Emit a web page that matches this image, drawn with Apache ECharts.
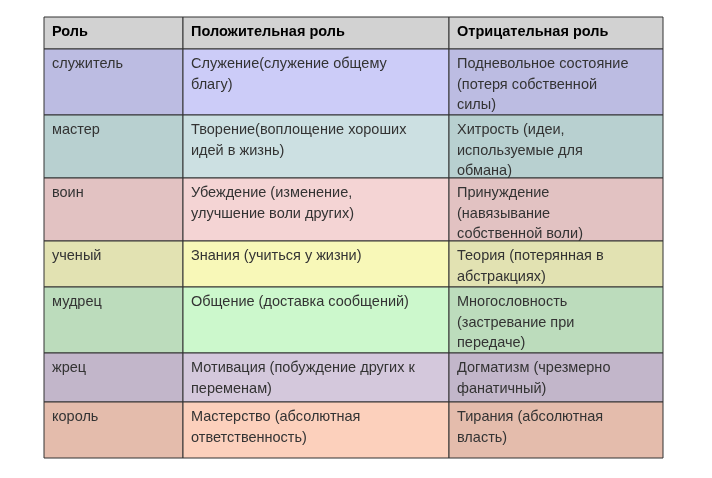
<!DOCTYPE html>
<html><head><meta charset="utf-8">
<script src="https://cdn.jsdelivr.net/npm/echarts@6/dist/echarts.min.js"></script>
<style>html,body{margin:0;padding:0;background:#fff}#c{width:712px;height:478px}</style>
</head><body><div id="c"></div>
<script>
var headers = ["Роль", "Положительная роль", "Отрицательная роль"];
var roles = ["служитель", "мастер", "воин", "ученый", "мудрец", "жрец", "король"];
var positives = [
  "Служение(служение общему\nблагу)",
  "Творение(воплощение хороших\nидей в жизнь)",
  "Убеждение (изменение,\nулучшение воли других)",
  "Знания (учиться у жизни)",
  "Общение (доставка сообщений)",
  "Мотивация (побуждение других к\nпеременам)",
  "Мастерство (абсолютная\nответственность)"
];
var negatives = [
  "Подневольное состояние\n(потеря собственной\nсилы)",
  "Хитрость (идеи,\nиспользуемые для\nобмана)",
  "Принуждение\n(навязывание\nсобственной воли)",
  "Теория (потерянная в\nабстракциях)",
  "Многословность\n(застревание при\nпередаче)",
  "Догматизм (чрезмерно\nфанатичный)",
  "Тирания (абсолютная\nвласть)"
];
var sideColors = ["#bcbce2", "#b8d0d0", "#e2c2c2", "#e2e2b2", "#bcdcbc", "#c2b6ca", "#e4bcac"];
var midColors  = ["#ccccf8", "#cce0e2", "#f4d4d4", "#f8f8b8", "#ccf8cc", "#d4c8dc", "#fcd0bc"];

var colX = [44, 183, 449, 663];
var rowY = [17, 49, 115, 178, 241, 287, 353, 402, 458];
var els = [];
function cell(c, r, text, fill, bold) {
  els.push({type:'rect', shape:{x:colX[c], y:rowY[r], width:colX[c+1]-colX[c], height:rowY[r+1]-rowY[r]},
    style:{fill:fill, stroke:'#333', lineWidth:1}, silent:true});
  els.push({type:'text', x:colX[c]+8, y:rowY[r]+5,
    style:{text:text, fill: bold ? '#000' : '#333', font:(bold?'bold ':'')+'14.5px "Liberation Sans", Arial, sans-serif', lineHeight:20.5}, silent:true});
}
for (var c = 0; c < 3; c++) cell(c, 0, headers[c], '#d2d2d2', true);
for (var i = 0; i < roles.length; i++) {
  cell(0, i+1, roles[i], sideColors[i]);
  cell(1, i+1, positives[i], midColors[i]);
  cell(2, i+1, negatives[i], sideColors[i]);
}
var chart = echarts.init(document.getElementById('c'));
chart.setOption({animation:false, graphic:{elements:els}});
</script></body></html>
